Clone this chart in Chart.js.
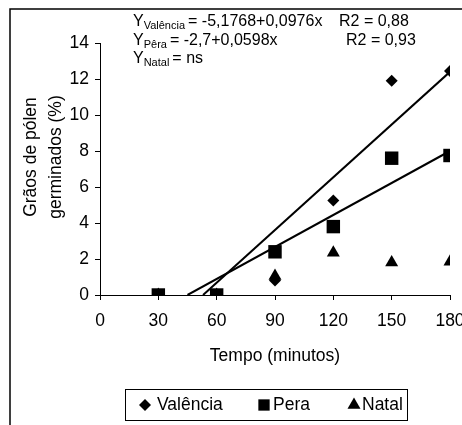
<!DOCTYPE html>
<html>
<head>
<meta charset="utf-8">
<script src="https://cdn.jsdelivr.net/npm/chart.js@4.4.1/dist/chart.umd.min.js"></script>
<style>
  html, body { margin: 0; padding: 0; background: #fff; overflow: hidden; }
  canvas { display: block; }
</style>
</head>
<body>
<canvas id="germChart" width="480" height="425"></canvas>
<script>
// Dados
const tempos = [30, 60, 90, 120, 150, 180];
const valencia = [0, 0, 0.8, 5.25, 11.9, 12.45];
const pera = [0, 0, 2.4, 3.8, 7.6, 7.75];
const natal = [0, 0, 1.05, 2.35, 1.8, 1.85];

// Retas de regressão (extremos)
const retaValenciaX = [53, 180];
const retaValenciaY = [0, 12.4];
const retaPeraX = [45, 180];
const retaPeraY = [0, 8.0];

const seriesNomes = ['Valência', 'Pera', 'Natal'];
const eixoXTitulo = 'Tempo (minutos)';
const eixoYTitulo = ['Grãos de pólen', 'germinados (%)'];
const xMin = 0, xMax = 180, xPasso = 30;
const yMin = 0, yMax = 14, yPasso = 2;

const equacoes = [
    { nome: 'Valência', formula: '= -5,1768+0,0976x', r2: 'R2 = 0,88', r2x: 339 },
    { nome: 'Pêra', formula: '= -2,7+0,0598x', r2: 'R2 = 0,93', r2x: 346 },
    { nome: 'Natal', formula: '= ns', r2: '', r2x: 0 }
];

const FONTE = "'Liberation Sans', Arial, sans-serif";

function pontos(xs, ys) {
    return xs.map((x, i) => ({ x: x, y: ys[i] }));
}

// desenha marcador simples (losango, quadrado, triângulo)
function marcador(ctx, tipo, x, y, r) {
    ctx.beginPath();
    if (tipo === 'rectRot') {
        ctx.moveTo(x, y - r); ctx.lineTo(x + r, y); ctx.lineTo(x, y + r); ctx.lineTo(x - r, y);
    } else if (tipo === 'rect') {
        const s = r * Math.SQRT1_2;
        ctx.rect(x - s, y - s, 2 * s, 2 * s);
    } else {
        ctx.moveTo(x, y - r);
        ctx.lineTo(x + r * 0.866, y + r / 2);
        ctx.lineTo(x - r * 0.866, y + r / 2);
    }
    ctx.closePath();
    ctx.fill();
}

const molduraPlugin = {
    id: 'moldura',
    afterDraw(chart) {
        const ctx = chart.ctx;
        ctx.save();
        ctx.strokeStyle = '#000';
        ctx.lineWidth = 1.5;
        ctx.strokeRect(10, 9, 600, 600);

        // título do eixo Y em duas linhas
        ctx.fillStyle = '#000';
        ctx.font = '17.5px ' + FONTE;
        ctx.textAlign = 'center';
        ctx.textBaseline = 'middle';
        ctx.translate(0, 157);
        ctx.rotate(-Math.PI / 2);
        ctx.fillText(eixoYTitulo[0], 0, 31);
        ctx.fillText(eixoYTitulo[1], 0, 56);
        ctx.restore();

        // equações
        ctx.save();
        ctx.fillStyle = '#000';
        ctx.textBaseline = 'alphabetic';
        ctx.textAlign = 'left';
        const bases = [25.5, 44.5, 63];
        equacoes.forEach((eq, i) => {
            let x = 133;
            const b = bases[i];
            ctx.font = '16px ' + FONTE;
            ctx.fillText('Y', x, b);
            x += ctx.measureText('Y').width;
            ctx.font = '11px ' + FONTE;
            ctx.fillText(eq.nome, x, b + 3);
            x += ctx.measureText(eq.nome).width + 3;
            ctx.font = '16px ' + FONTE;
            ctx.fillText(eq.formula, x, b);
            if (eq.r2) ctx.fillText(eq.r2, eq.r2x, b);
        });
        ctx.restore();

        // legenda com caixa
        ctx.save();
        ctx.strokeStyle = '#000';
        ctx.lineWidth = 1;
        ctx.strokeRect(125.5, 389.5, 282, 31);
        ctx.fillStyle = '#000';
        ctx.font = '17.5px ' + FONTE;
        ctx.textBaseline = 'middle';
        ctx.textAlign = 'left';
        const itens = [
            { mx: 145, tx: 157, r: 6 },
            { mx: 264, tx: 273, r: 8 },
            { mx: 354, tx: 362, r: 7.5 }
        ];
        const dsMarc = chart.data.datasets.slice(0, 3);
        dsMarc.forEach((ds, i) => {
            const it = itens[i];
            marcador(ctx, ds.pointStyle, it.mx, 405, it.r);
            ctx.fillText(ds.label, it.tx, 405);
        });
        ctx.restore();
    }
};

const ctx = document.getElementById('germChart').getContext('2d');

window.germChart = new Chart(ctx, {
    type: 'scatter',
    data: {
        datasets: [
            {
                label: seriesNomes[0],
                data: pontos(tempos, valencia),
                pointStyle: 'rectRot',
                pointRadius: 6,
                backgroundColor: '#000',
                borderColor: '#000',
                borderWidth: 0
            },
            {
                label: seriesNomes[1],
                data: pontos(tempos, pera),
                pointStyle: 'rect',
                pointRadius: 9.5,
                backgroundColor: '#000',
                borderColor: '#000',
                borderWidth: 0
            },
            {
                label: seriesNomes[2],
                data: pontos(tempos, natal),
                pointStyle: 'triangle',
                pointRadius: 7.5,
                backgroundColor: '#000',
                borderColor: '#000',
                borderWidth: 0
            },
            {
                label: 'reta Valência',
                data: pontos(retaValenciaX, retaValenciaY),
                showLine: true,
                pointRadius: 0,
                borderColor: '#000',
                borderWidth: 2
            },
            {
                label: 'reta Pera',
                data: pontos(retaPeraX, retaPeraY),
                showLine: true,
                pointRadius: 0,
                borderColor: '#000',
                borderWidth: 2
            }
        ]
    },
    options: {
        responsive: false,
        animation: false,
        layout: {
            padding: { top: 43, right: 30, bottom: 55, left: 10 }
        },
        plugins: {
            legend: { display: false },
            tooltip: { enabled: false }
        },
        scales: {
            x: {
                type: 'linear',
                min: xMin,
                max: xMax,
                afterFit: (scale) => { scale.height = 75; },
                border: { display: true, color: '#000', width: 1 },
                grid: { display: true, drawOnChartArea: false, drawTicks: true, tickLength: 5, color: '#000' },
                ticks: {
                    stepSize: xPasso,
                    padding: 11,
                    color: '#000',
                    font: { family: FONTE, size: 17.5 }
                },
                title: {
                    display: true,
                    text: eixoXTitulo,
                    color: '#000',
                    font: { family: FONTE, size: 17.5 },
                    padding: { top: 0, bottom: 3 }
                }
            },
            y: {
                min: yMin,
                max: yMax,
                afterFit: (scale) => { scale.width = 90; },
                border: { display: true, color: '#000', width: 1 },
                grid: { display: true, drawOnChartArea: false, drawTicks: true, tickLength: 5, color: '#000' },
                ticks: {
                    stepSize: yPasso,
                    padding: 6,
                    color: '#000',
                    font: { family: FONTE, size: 17.5 }
                }
            }
        }
    },
    plugins: [molduraPlugin]
});
</script>
</body>
</html>
